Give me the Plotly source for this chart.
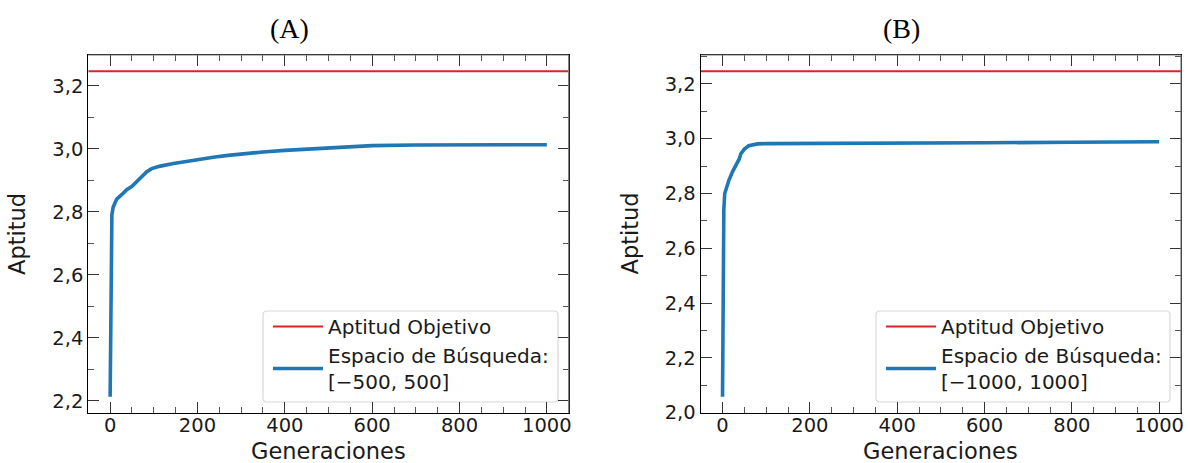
import plotly.graph_objects as go

W, H = 1190, 463

# ---------------- data ----------------
TARGET = 3.246  # Aptitud Objetivo

GEN_A = [0, 1, 2, 4, 7, 15, 27, 38, 50, 61, 72, 84, 95, 115, 145, 175, 205, 240,
         270, 310, 350, 400, 450, 500, 550, 600, 700, 800, 900, 1000]
FIT_A = [2.213, 2.45, 2.74, 2.79, 2.815, 2.84, 2.855, 2.87, 2.881, 2.896, 2.913,
         2.927, 2.937, 2.945, 2.953, 2.960, 2.966, 2.974, 2.979, 2.985, 2.990,
         2.995, 2.999, 3.004, 3.008, 3.010, 3.012, 3.012, 3.013, 3.013]

GEN_B = [0, 1, 2, 3, 5, 10, 15, 23, 30, 38, 42, 50, 60, 70, 80, 100, 200, 400,
         600, 800, 1000]
FIT_B = [2.058, 2.35, 2.60, 2.74, 2.80, 2.83, 2.85, 2.88, 2.90, 2.925, 2.945,
         2.962, 2.974, 2.979, 2.981, 2.982, 2.982, 2.983, 2.985, 2.987, 2.989]

X_TICKS = [0, 200, 400, 600, 800, 1000]
X_TICKTEXT = ["0", "200", "400", "600", "800", "1000"]
Y_TICKS_A = [2.2, 2.4, 2.6, 2.8, 3.0, 3.2]
Y_TICKTEXT_A = ["2,2", "2,4", "2,6", "2,8", "3,0", "3,2"]
Y_TICKS_B = [2.0, 2.2, 2.4, 2.6, 2.8, 3.0, 3.2]
Y_TICKTEXT_B = ["2,0", "2,2", "2,4", "2,6", "2,8", "3,0", "3,2"]

TITLES = ["(A)", "(B)"]
X_TITLE = "Generaciones"
Y_TITLE = "Aptitud"
LABEL_TARGET = "Aptitud Objetivo"
LABEL_A = "Espacio de Búsqueda:<br>[\u2212500, 500]"
LABEL_B = "Espacio de Búsqueda:<br>[\u22121000, 1000]"

BLUE = "#1f77b4"
RED = "#d62728"
FONT = "DejaVu Sans"
TXT = "#1a1a1a"


def margins(lo, hi, frac=0.05):
    d = hi - lo
    return lo - frac * d, hi + frac * d


def rounded_rect(x0, y0, x1, y1, r=4):
    # pixel coords (top-left origin) -> paper fractions path
    def p(x, y):
        return f"{x / W:.5f},{1 - y / H:.5f}"
    return (f"M{p(x0 + r, y0)} L{p(x1 - r, y0)} Q{p(x1, y0)} {p(x1, y0 + r)} "
            f"L{p(x1, y1 - r)} Q{p(x1, y1)} {p(x1 - r, y1)} "
            f"L{p(x0 + r, y1)} Q{p(x0, y1)} {p(x0, y1 - r)} "
            f"L{p(x0, y0 + r)} Q{p(x0, y0)} {p(x0 + r, y0)} Z")


fig = go.Figure()

# pixel geometry of the two axes boxes
boxes = [
    dict(x0=88.3, x1=568.7, y0=55, y1=413, ylab=17),
    dict(x0=700.7, x1=1181.0, y0=55, y1=413, ylab=629.5),
]
legend_boxes = [
    dict(x0=263, x1=558, y0=311, y1=402),
    dict(x0=876, x1=1170, y0=311, y1=402),
]

panels = [
    (GEN_A, FIT_A, LABEL_A, Y_TICKS_A, Y_TICKTEXT_A, "legend"),
    (GEN_B, FIT_B, LABEL_B, Y_TICKS_B, Y_TICKTEXT_B, "legend2"),
]

for i, (gx, gy, lab, ytv, ytt, leg) in enumerate(panels):
    n = "" if i == 0 else str(i + 1)
    xr = margins(min(gx), max(gx))
    yr = margins(min(gy), max(max(gy), TARGET))
    fig.add_trace(go.Scatter(
        x=[xr[0], xr[1]], y=[TARGET, TARGET], mode="lines",
        line=dict(color=RED, width=2.2), name=LABEL_TARGET,
        xaxis="x" + n, yaxis="y" + n, legend=leg, hoverinfo="skip"))
    fig.add_trace(go.Scatter(
        x=gx, y=gy, mode="lines", line=dict(color=BLUE, width=3.6),
        name=lab, xaxis="x" + n, yaxis="y" + n, legend=leg))
    b = boxes[i]
    common = dict(
        showline=True, linecolor="black", linewidth=1.2, mirror="allticks",
        ticks="inside", ticklen=11, tickwidth=1.2, tickcolor="#333333",
        showgrid=False, zeroline=False, automargin=False,
        tickfont=dict(family=FONT, size=19.5, color=TXT),
    )
    fig.update_layout(**{
        "xaxis" + n: dict(
            common, domain=[b["x0"] / W, b["x1"] / W], range=list(xr),
            anchor="y" + n, tickmode="array", tickvals=X_TICKS, ticktext=X_TICKTEXT,
            ticklabelstandoff=-6,
            minor=dict(tickmode="linear", tick0=0, dtick=50, ticks="inside",
                       ticklen=6, tickwidth=1, tickcolor="#555555", showgrid=False),
        ),
        "yaxis" + n: dict(
            common, domain=[1 - b["y1"] / H, 1 - b["y0"] / H], range=list(yr),
            anchor="x" + n, tickmode="array", tickvals=ytv, ticktext=ytt,
            ticklabelstandoff=0,
            minor=dict(tickmode="linear", tick0=0, dtick=0.1, ticks="inside",
                       ticklen=6, tickwidth=1, tickcolor="#555555", showgrid=False),
        ),
    })
    # axis titles as annotations (exact placement)
    fig.add_annotation(text=X_TITLE, xref="paper", yref="paper",
                       x=(b["x0"] + b["x1"]) / 2 / W, y=1 - 451 / H,
                       xanchor="center", yanchor="middle", showarrow=False,
                       font=dict(family=FONT, size=22.5, color=TXT))
    fig.add_annotation(text=Y_TITLE, xref="paper", yref="paper",
                       x=b["ylab"] / W, y=1 - 234 / H, textangle=-90,
                       xanchor="center", yanchor="middle", showarrow=False,
                       font=dict(family=FONT, size=22.5, color=TXT))
    # lighter top/right spines as in the reference
    fig.add_shape(type="line", xref="x" + n + " domain", yref="y" + n + " domain",
                  x0=0, x1=1, y0=1, y1=1, line=dict(color="#777777", width=1.2))
    fig.add_shape(type="line", xref="x" + n + " domain", yref="y" + n + " domain",
                  x0=1, x1=1, y0=0, y1=1, line=dict(color="#777777", width=1.2))
    lb = legend_boxes[i]
    fig.add_shape(type="path", xref="paper", yref="paper", layer="below",
                  path=rounded_rect(lb["x0"], lb["y0"], lb["x1"], lb["y1"]),
                  line=dict(color="#d8d8d8", width=1.2),
                  fillcolor="rgba(255,255,255,0.8)")

title_x = [289, 901]
for t, tx in zip(TITLES, title_x):
    fig.add_annotation(text=t, xref="paper", yref="paper", x=tx / W, y=1 - 28 / H,
                       xanchor="center", yanchor="middle", showarrow=False,
                       font=dict(family="Liberation Serif", size=28, color="black"))

legend_common = dict(
    bgcolor="rgba(0,0,0,0)", borderwidth=0,
    font=dict(family=FONT, size=20, color=TXT),
    xref="paper", yref="paper", xanchor="left", yanchor="top",
    y=1 - 307 / H, itemwidth=50, valign="middle", traceorder="normal",
)

fig.update_layout(
    width=W, height=H,
    margin=dict(l=0, r=0, t=0, b=0, autoexpand=False),
    paper_bgcolor="white", plot_bgcolor="white",
    showlegend=True,
    legend=dict(legend_common, x=268 / W),
    legend2=dict(legend_common, x=881 / W),
)

fig.write_html("out.html")
